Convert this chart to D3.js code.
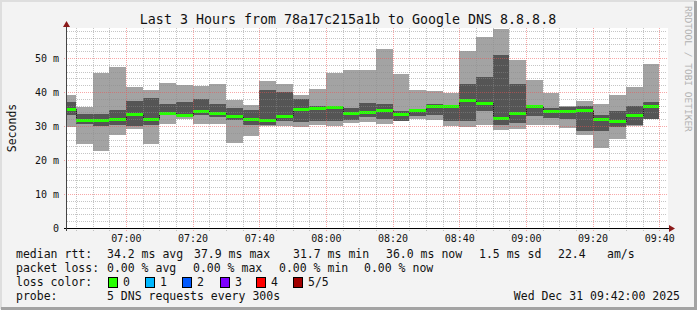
<!DOCTYPE html>
<html>
<head>
<meta charset="utf-8">
<script src="https://cdn.jsdelivr.net/npm/d3@7"></script>
<style>
  body { margin: 0; background: #f3f3f3; }
  svg text { font-family: "DejaVu Sans Mono", monospace; }
</style>
</head>
<body>
<div id="chart"></div>
<script>
"use strict";

// 5-minute rounds, 5 DNS requests each (ms)
var firstRound = new Date(2025, 11, 31, 6, 40);
var pingMin = [29.9, 24.9, 22.8, 27.5, 29.2, 24.9, 30.6, 32.1, 30.7, 30.7, 25.2, 27.2,
               30.0, 30.2, 29.9, 30.4, 30.1, 31.1, 31.4, 30.7, 31.6, 32.3, 31.9, 30.2,
               29.9, 30.4, 28.9, 29.2, 30.4, 30.4, 29.4, 27.4, 23.7, 26.3, 30.2, 32.1];
var ping2 = [33.5, 30.6, 30.1, 30.4, 30.2, 30.4, 33.6, 32.8, 33.5, 32.8, 31.9, 30.4,
             30.4, 31.5, 31.4, 31.6, 31.6, 31.9, 32.8, 32.1, 31.7, 33.1, 33.3, 31.6,
             31.6, 34.5, 30.4, 30.9, 33.1, 32.5, 32.1, 28.6, 28.6, 29.9, 30.4, 32.1];
var median = [35.2, 32.0, 31.9, 32.2, 33.8, 32.3, 34.1, 33.3, 34.6, 34.0, 33.0, 32.1,
              31.9, 33.2, 35.1, 35.3, 35.6, 34.0, 34.3, 34.9, 33.7, 34.8, 35.9, 35.9,
              37.7, 36.8, 32.5, 34.1, 35.9, 34.6, 34.6, 34.9, 32.3, 31.6, 33.3, 35.9];
var ping4 = [37.1, 33.8, 33.8, 34.8, 37.4, 38.3, 36.6, 37.1, 38.1, 36.6, 35.5, 34.8,
             40.7, 40.1, 38.0, 36.0, 36.1, 35.4, 36.9, 36.5, 34.5, 35.1, 36.5, 36.3,
             42.4, 44.5, 51.0, 42.4, 36.2, 35.3, 35.6, 36.0, 33.3, 34.5, 36.0, 37.1];
var pingMax = [39.2, 35.7, 45.8, 47.4, 41.7, 40.6, 42.8, 42.3, 41.8, 42.4, 37.7, 36.2,
               43.3, 42.4, 39.2, 41.0, 45.8, 46.6, 46.6, 52.8, 45.4, 40.7, 40.4, 39.7,
               52.1, 56.3, 58.8, 49.5, 43.6, 39.8, 36.0, 37.4, 36.5, 39.2, 41.7, 48.3];

var yTicks = [0, 10, 20, 30, 40, 50];
var xTickLabels = ["07:00", "07:20", "07:40", "08:00", "08:20", "08:40", "09:00", "09:20", "09:40"];

var title = "Last 3 Hours from 78a17c215a1b to Google DNS 8.8.8.8";
var rttLegend = ["median rtt:", "34.2 ms avg", "37.9 ms max", "31.7 ms min", "36.0 ms now", "1.5 ms sd", "22.4", "am/s"];
var lossLegend = ["packet loss:", "0.00 % avg", "0.00 % max", "0.00 % min", "0.00 % now"];
var lossNames = ["0", "1", "2", "3", "4", "5/5"];
var lossColors = ["#26ff00", "#00b8ff", "#0059ff", "#7e00ff", "#ff0000", "#a10000"];
var probeText = "5 DNS requests every 300s";
var stampText = "Wed Dec 31 09:42:00 2025";

var w = 697;
var h = 310;
var step = 5 * 60 * 1000;

var rounds = median.map(function (m, i) {
    return {
        t: new Date(firstRound.getTime() + i * step),
        lo: pingMin[i], p2: ping2[i], med: m, p4: ping4[i], hi: pingMax[i]
    };
});

var x = d3.scaleTime()
    .domain([new Date(2025, 11, 31, 6, 42), new Date(2025, 11, 31, 9, 42)])
    .range([66.4, 666.4]);

var y = d3.scaleLinear()
    .domain([0, 58.85])
    .range([228.4, 28.4]);

function px(v) { return Math.floor(v) + 0.5; }

var svg = d3.select("#chart")
    .append("svg")
    .attr("width", w)
    .attr("height", h);

// background and 3d frame
svg.append("rect").attr("width", w).attr("height", h).attr("fill", "#f3f3f3");
svg.append("path").attr("d", "M1,309 V1 H696").attr("fill", "none").attr("stroke", "#dedede").attr("stroke-width", 2);
svg.append("path").attr("d", "M1,308.5 H695.5 V1").attr("fill", "none").attr("stroke", "#a3a3a3").attr("stroke-width", 3);

// canvas
svg.append("rect")
    .attr("x", 67).attr("y", 28)
    .attr("width", 601).attr("height", 201)
    .attr("fill", "#ffffff");

svg.append("clipPath").attr("id", "plotclip")
    .append("rect").attr("x", 67).attr("y", 27).attr("width", 600).attr("height", 202);

var plot = svg.append("g").attr("clip-path", "url(#plotclip)");

function bx(d) { return Math.floor(x(d.t)); }
function bw(d) { return Math.floor(x(new Date(d.t.getTime() + step))) - Math.floor(x(d.t)); }

// outer smoke (min..max)
plot.selectAll("rect.outer")
    .data(rounds)
    .enter()
    .append("rect")
    .attr("class", "outer")
    .attr("x", bx)
    .attr("width", bw)
    .attr("y", function (d) { return Math.round(y(d.hi)); })
    .attr("height", function (d) { return Math.round(y(d.lo)) - Math.round(y(d.hi)); })
    .attr("fill", "#a3a3a3");

// inner smoke (2nd..4th)
plot.selectAll("rect.inner")
    .data(rounds)
    .enter()
    .append("rect")
    .attr("class", "inner")
    .attr("x", bx)
    .attr("width", bw)
    .attr("y", function (d) { return Math.round(y(d.p4)); })
    .attr("height", function (d) { return Math.round(y(d.p2)) - Math.round(y(d.p4)); })
    .attr("fill", "#555555");

// median step line
var stepData = rounds.concat([{ t: new Date(rounds[rounds.length - 1].t.getTime() + step), med: rounds[rounds.length - 1].med }]);
plot.append("path")
    .datum(stepData)
    .attr("fill", "none")
    .attr("stroke", "#202020")
    .attr("stroke-width", 1)
    .attr("d", d3.line()
        .x(function (d) { return px(x(d.t)); })
        .y(function (d) { return Math.round(y(d.med)) + 0.5; })
        .curve(d3.curveStepAfter));

// median in loss colour (no loss)
plot.selectAll("rect.med")
    .data(rounds)
    .enter()
    .append("rect")
    .attr("class", "med")
    .attr("x", bx)
    .attr("width", bw)
    .attr("y", function (d) { return Math.round(y(d.med)) - 1; })
    .attr("height", 3)
    .attr("fill", lossColors[0]);

// grid (drawn over the smoke like rrdtool)
var grid = svg.append("g").attr("shape-rendering", "crispEdges");
var minorY = d3.range(2, 59, 2).filter(function (v) { return v % 10 !== 0; });
grid.selectAll("line.hmin")
    .data(minorY)
    .enter()
    .append("line")
    .attr("x1", 67).attr("x2", 667)
    .attr("y1", function (d) { return px(y(d)); })
    .attr("y2", function (d) { return px(y(d)); })
    .attr("stroke", "rgba(140,140,140,0.5)")
    .attr("stroke-dasharray", "1,1");

var minorX = d3.timeMinute.every(5).range(x.domain()[0], x.domain()[1])
    .filter(function (d) { return d.getMinutes() % 20 !== 0; });
grid.selectAll("line.vmin")
    .data(minorX)
    .enter()
    .append("line")
    .attr("x1", function (d) { return px(x(d)); })
    .attr("x2", function (d) { return px(x(d)); })
    .attr("y1", 28).attr("y2", 231)
    .attr("stroke", "rgba(140,140,140,0.5)")
    .attr("stroke-dasharray", "1,1");

grid.selectAll("line.hmaj")
    .data(yTicks.slice(1))
    .enter()
    .append("line")
    .attr("x1", 64).attr("x2", 667)
    .attr("y1", function (d) { return px(y(d)); })
    .attr("y2", function (d) { return px(y(d)); })
    .attr("stroke", "rgba(240,80,80,0.5)")
    .attr("stroke-dasharray", "1,1");

var majorX = d3.timeMinute.every(20).range(x.domain()[0], x.domain()[1]);
grid.selectAll("line.vmaj")
    .data(majorX)
    .enter()
    .append("line")
    .attr("x1", function (d) { return px(x(d)); })
    .attr("x2", function (d) { return px(x(d)); })
    .attr("y1", 28).attr("y2", 232)
    .attr("stroke", "rgba(240,80,80,0.5)")
    .attr("stroke-dasharray", "1,1");

// axes
svg.append("line")
    .attr("x1", 64).attr("x2", 669).attr("y1", 228.5).attr("y2", 228.5)
    .attr("stroke", "#000");
svg.append("line")
    .attr("x1", 66.5).attr("x2", 66.5).attr("y1", 231).attr("y2", 25)
    .attr("stroke", "#444");
svg.append("path").attr("d", "M669,225 L675,228.5 L669,232 Z").attr("fill", "#8b1a1a");
svg.append("path").attr("d", "M63,27 L66.5,21 L70,27 Z").attr("fill", "#8b1a1a");

// tick labels
svg.append("g").selectAll("text")
    .data(yTicks)
    .enter()
    .append("text")
    .attr("x", 59)
    .attr("y", function (d) { return y(d); })
    .attr("dy", "0.35em")
    .attr("text-anchor", "end")
    .attr("font-size", "10px")
    .attr("fill", "#111")
    .text(function (d) { return d === 0 ? "0" : d + " m"; });

svg.append("g").selectAll("text")
    .data(majorX.slice(0, xTickLabels.length))
    .enter()
    .append("text")
    .attr("x", function (d) { return x(d); })
    .attr("y", 242)
    .attr("text-anchor", "middle")
    .attr("font-size", "10px")
    .attr("fill", "#111")
    .text(function (d, i) { return xTickLabels[i]; });

// title & labels
svg.append("text")
    .attr("x", 348).attr("y", 24)
    .attr("text-anchor", "middle")
    .attr("font-size", "13.3px")
    .attr("fill", "#111")
    .text(title);

svg.append("text")
    .attr("transform", "translate(16,128) rotate(-90)")
    .attr("text-anchor", "middle")
    .attr("font-size", "11.5px")
    .attr("fill", "#111")
    .text("Seconds");

svg.append("text")
    .attr("transform", "translate(685,6) rotate(90)")
    .attr("font-size", "9.5px")
    .attr("fill", "#b0b0b0")
    .text("RRDTOOL / TOBI OETIKER");

// legend
var legendFont = "11.5px";
var rttX = [16, 107, 194, 293, 386, 479, 558, 607];
rttLegend.forEach(function (s, i) {
    svg.append("text").attr("x", rttX[i]).attr("y", 258)
        .attr("font-size", legendFont).attr("fill", "#111").text(s);
});
var lossX = [16, 107, 193, 279, 364];
lossLegend.forEach(function (s, i) {
    svg.append("text").attr("x", lossX[i]).attr("y", 272)
        .attr("font-size", legendFont).attr("fill", "#111").text(s);
});
svg.append("text").attr("x", 16).attr("y", 286)
    .attr("font-size", legendFont).attr("fill", "#111").text("loss color:");
var boxX = [108, 145, 182, 220, 256, 293];
lossNames.forEach(function (s, i) {
    svg.append("rect").attr("x", boxX[i] + 0.5).attr("y", 277.5).attr("width", 9).attr("height", 10)
        .attr("fill", lossColors[i]).attr("stroke", "#000");
    svg.append("text").attr("x", boxX[i] + 15).attr("y", 286)
        .attr("font-size", legendFont).attr("fill", "#111").text(s);
});
svg.append("text").attr("x", 16).attr("y", 300)
    .attr("font-size", legendFont).attr("fill", "#111").text("probe:");
svg.append("text").attr("x", 107).attr("y", 300)
    .attr("font-size", legendFont).attr("fill", "#111").text(probeText);
svg.append("text").attr("x", 680).attr("y", 300)
    .attr("text-anchor", "end")
    .attr("font-size", legendFont).attr("fill", "#111").text(stampText);
</script>
</body>
</html>
